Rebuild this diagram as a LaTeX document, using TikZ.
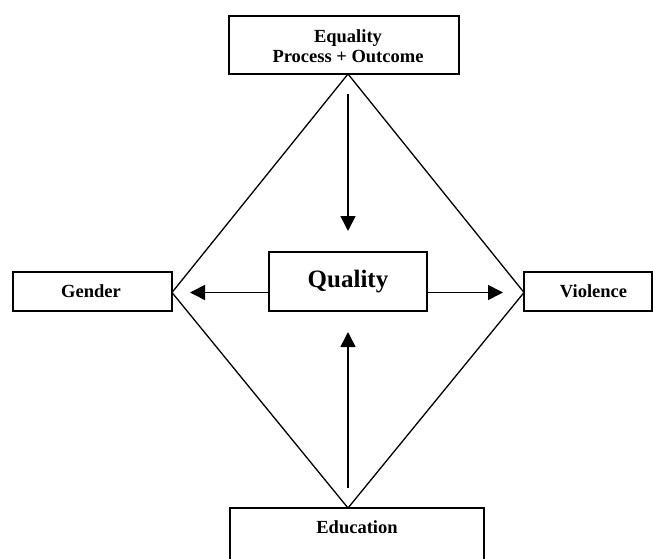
\documentclass[tikz,border=0pt]{standalone}
\usepackage{fontspec}
\setmainfont{Liberation Serif}
\usetikzlibrary{arrows.meta}
\begin{document}
\begin{tikzpicture}[x=1pt,y=-1pt,
  lab/.style={font=\fontsize{18.5}{20.5}\selectfont\bfseries, align=center, inner sep=0pt},
  boxline/.style={draw=black, line width=2pt},
  dia/.style={draw=black, line width=1.3pt},
  arr/.style={draw=black, line width=1.6pt, -{Triangle[length=15pt,width=15pt]}}]
\useasboundingbox (0,0) rectangle (653,559);
% boxes
\node[boxline, minimum width=230pt, minimum height=58pt, inner sep=0pt] (eq) at (344,45) {};
\node[lab] (eqt) at (348,46) {Equality\\Process + Outcome};
\node[boxline, minimum width=159pt, minimum height=39pt, inner sep=0pt] (gen) at (92.5,291.5) {};
\node[lab] (gent) at (91,291.5) {Gender};
\node[boxline, minimum width=128pt, minimum height=39pt, inner sep=0pt] (vio) at (588,291.5) {};
\node[lab] (viot) at (593.5,291.5) {Violence};
\node[boxline, minimum width=158pt, minimum height=59pt, inner sep=0pt,
      font=\fontsize{25}{27}\selectfont\bfseries] (q) at (348,281.5) {\raisebox{4pt}{Quality}};
\draw[boxline] (230,563) coordinate (edbl) -- (230,508) coordinate (edtl) -- (484,508) coordinate (edtr) -- (484,563) coordinate (edbr);
\node[lab] (edt) at (357,527.5) {Education};
% diamond vertices
\coordinate (dt) at (348,74);
\coordinate (dl) at (172,292.5);
\coordinate (db) at (348,508);
\coordinate (dr) at (524,292.5);
\draw[dia, line join=miter] (dt) -- (dr) -- (db) -- (dl) -- cycle;
% arrows
\draw[arr, shorten <=20pt, shorten >=20pt] (dt) -- (dt |- q.north);
\draw[arr, shorten <=20pt, shorten >=20pt] (db) -- (db |- q.south);
\draw[arr, shorten >=18pt] (q.west |- dl) -- (dl);
\draw[arr, shorten >=21pt] (q.east |- dr) -- (dr);
\end{tikzpicture}
\end{document}
